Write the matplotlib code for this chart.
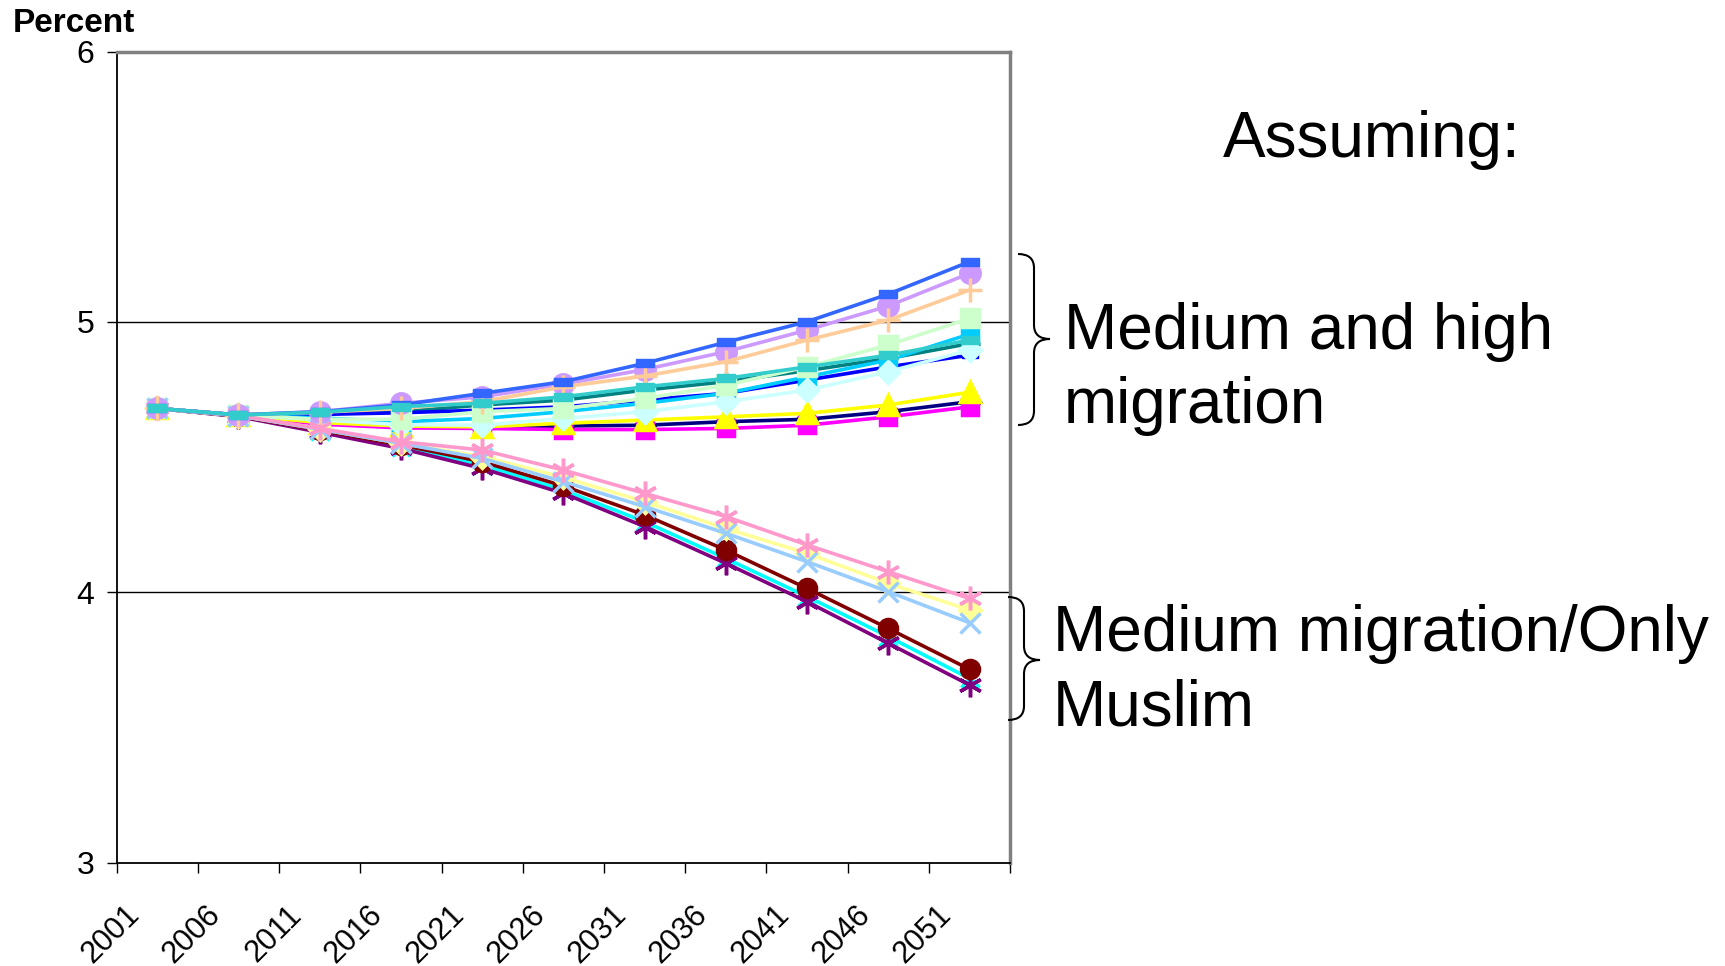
import matplotlib
matplotlib.use("Agg")
import matplotlib.pyplot as plt
from matplotlib.path import Path
from matplotlib.patches import PathPatch
from matplotlib.transforms import ScaledTranslation

plt.rcParams['font.family'] = ['Liberation Sans', 'DejaVu Sans']

years = ['2001', '2006', '2011', '2016', '2021', '2026', '2031', '2036', '2041', '2046', '2051']

# series, in Excel drawing order
navy = [4.68, 4.655, 4.625, 4.612, 4.610, 4.615, 4.618, 4.631, 4.640, 4.668, 4.705]
magenta = [4.68, 4.655, 4.622, 4.608, 4.606, 4.602, 4.602, 4.606, 4.618, 4.649, 4.686]
yellow = [4.68, 4.655, 4.628, 4.615, 4.612, 4.625, 4.637, 4.649, 4.662, 4.693, 4.740]
cyan = [4.68, 4.652, 4.598, 4.539, 4.471, 4.378, 4.261, 4.125, 3.984, 3.836, 3.681]
purple = [4.68, 4.650, 4.592, 4.532, 4.458, 4.366, 4.243, 4.107, 3.965, 3.811, 3.657]
darkred = [4.68, 4.652, 4.600, 4.545, 4.483, 4.393, 4.286, 4.156, 4.014, 3.866, 3.715]
teal = [4.68, 4.656, 4.660, 4.668, 4.693, 4.711, 4.748, 4.779, 4.820, 4.865, 4.920]
blue = [4.68, 4.656, 4.658, 4.664, 4.674, 4.686, 4.711, 4.736, 4.785, 4.834, 4.877]
skyblue = [4.68, 4.655, 4.645, 4.631, 4.643, 4.668, 4.699, 4.736, 4.797, 4.859, 4.955]
lightcyan = [4.68, 4.655, 4.638, 4.620, 4.618, 4.643, 4.668, 4.705, 4.748, 4.816, 4.896]
lightgreen = [4.68, 4.655, 4.640, 4.640, 4.668, 4.680, 4.717, 4.766, 4.834, 4.915, 5.013]
lightyellow = [4.68, 4.653, 4.604, 4.551, 4.502, 4.425, 4.335, 4.236, 4.144, 4.033, 3.934]
lightblue = [4.68, 4.653, 4.603, 4.551, 4.495, 4.409, 4.317, 4.218, 4.113, 4.002, 3.887]
pink = [4.68, 4.654, 4.606, 4.557, 4.526, 4.452, 4.366, 4.280, 4.175, 4.076, 3.977]
lavender = [4.68, 4.656, 4.668, 4.699, 4.723, 4.770, 4.824, 4.890, 4.970, 5.059, 5.180]
peach = [4.68, 4.656, 4.666, 4.680, 4.705, 4.760, 4.800, 4.853, 4.933, 5.007, 5.118]
royal = [4.68, 4.656, 4.668, 4.693, 4.736, 4.779, 4.847, 4.925, 5.001, 5.103, 5.223]
turquoise = [4.68, 4.656, 4.666, 4.687, 4.699, 4.723, 4.760, 4.791, 4.834, 4.877, 4.933]

dash = [(-1, -0.4), (1, -0.4), (1, 0.4), (-1, 0.4), (-1, -0.4)]
star = (6, 2, 0)

series = [
    (navy, '#000080', 'D', 10),
    (magenta, '#FF00FF', 's', 11),
    (yellow, '#FFFF00', '^', 15),
    (cyan, '#00FFFF', 'x', 13),
    (purple, '#800080', star, 17),
    (darkred, '#800000', 'o', 13),
    (teal, '#008080', '+', 14),
    (blue, '#0000FF', dash, 12),
    (skyblue, '#00CCFF', 's', 11),
    (lightcyan, '#CCFFFF', 'D', 11),
    (lightgreen, '#CCFFCC', 's', 13),
    (lightyellow, '#FFFF99', 'D', 11),
    (lightblue, '#99CCFF', 'x', 14),
    (pink, '#FF99CC', star, 17),
    (lavender, '#CC99FF', 'o', 14),
    (peach, '#FFCC99', '+', 17),
    (royal, '#3366FF', dash, 13),
    (turquoise, '#33CCCC', dash, 13),
]

fig = plt.figure(figsize=(17.25, 9.66), dpi=100)
ax = fig.add_axes([0.0676, 0.1071, 0.518, 0.8394])

x = list(range(len(years)))
for vals, col, mk, ms in series:
    mew = 1 if mk is dash else 2.5
    ax.plot(x, vals, color=col, lw=2.6, marker=mk, markersize=ms,
            markerfacecolor=col, markeredgecolor=col, markeredgewidth=mew)

ax.set_xlim(-0.5, len(years) - 0.5)
ax.set_ylim(3, 6)
ax.set_yticks([3, 4, 5, 6])
ax.set_yticklabels(['3', '4', '5', '6'], fontsize=23)
for yv in [4, 5]:
    ax.axhline(yv, color='black', lw=1, zorder=0)

ax.set_xticks(x)
ax.set_xticklabels(years, rotation=45, ha='right', va='top', fontsize=22)
ax.set_xticks([i - 0.5 for i in range(len(years) + 1)], minor=True)
ax.tick_params(axis='x', which='major', length=0, pad=27)
ax.tick_params(axis='x', which='minor', length=7, width=1, direction='out')
ax.tick_params(axis='y', length=7, width=1, direction='out', pad=9)
for lab in ax.get_xticklabels():
    lab.set_transform(lab.get_transform() + ScaledTranslation(-0.12, 0, fig.dpi_scale_trans))

for s in ['top', 'right']:
    ax.spines[s].set_color('#808080')
    ax.spines[s].set_linewidth(2.5)
for s in ['left', 'bottom']:
    ax.spines[s].set_color('black')
    ax.spines[s].set_linewidth(1.3)

# overlay in pixel coordinates for annotations
ov = fig.add_axes([0, 0, 1, 1])
ov.set_xlim(0, 1725)
ov.set_ylim(966, 0)
ov.axis('off')


def brace(x0, x1, ytop, ybot, ymid, r=14):
    xm = (x0 + x1) / 2
    verts = [(x0, ytop), (xm, ytop), (xm, ytop + r),
             (xm, ymid - r), (xm, ymid), (x1, ymid),
             (xm, ymid), (xm, ymid + r),
             (xm, ybot - r), (xm, ybot), (x0, ybot)]
    codes = [Path.MOVETO, Path.CURVE3, Path.CURVE3,
             Path.LINETO, Path.CURVE3, Path.CURVE3,
             Path.CURVE3, Path.CURVE3,
             Path.LINETO, Path.CURVE3, Path.CURVE3]
    ov.add_patch(PathPatch(Path(verts, codes), fill=False, lw=1.5, color='black'))


brace(1018, 1050, 254, 425, 339)
brace(1008, 1040, 597, 720, 660)

ov.text(13, 23, 'Percent', fontsize=24, fontweight='bold', ha='left', va='center')
ov.text(1223, 140, 'Assuming:', fontsize=46, ha='left', va='center')
ov.text(1064, 332, 'Medium and high', fontsize=46, ha='left', va='center')
ov.text(1064, 406, 'migration', fontsize=46, ha='left', va='center')
ov.text(1053, 634, 'Medium migration/Only', fontsize=46, ha='left', va='center')
ov.text(1053, 709, 'Muslim', fontsize=46, ha='left', va='center')

fig.savefig('out.png', dpi=100)
